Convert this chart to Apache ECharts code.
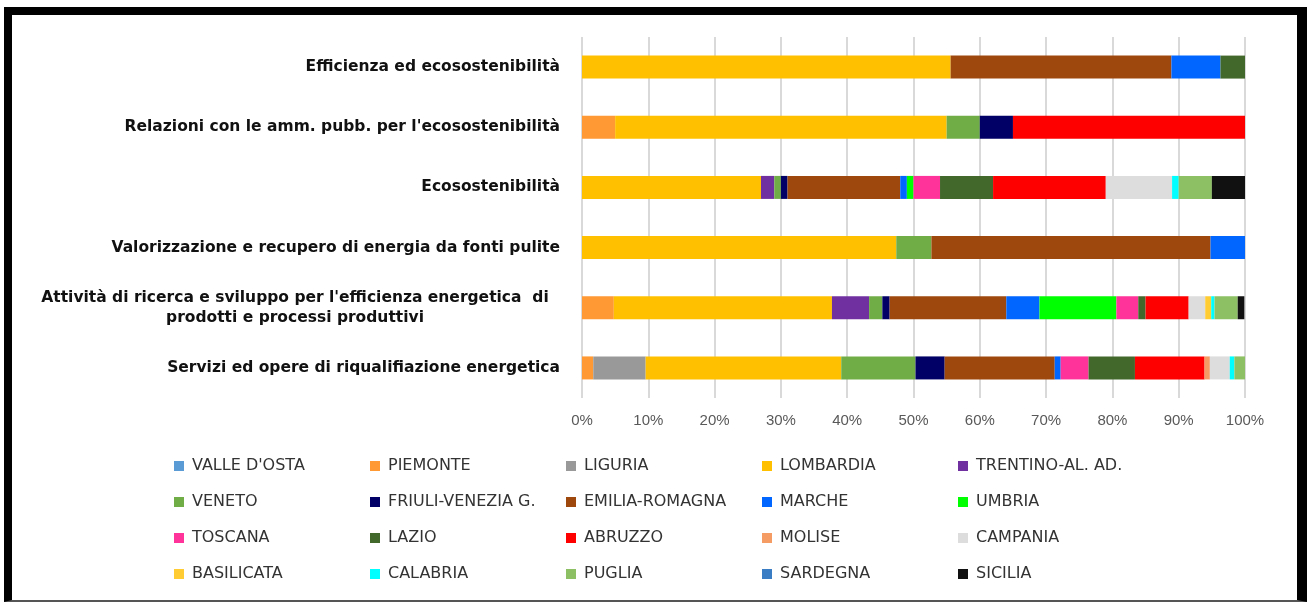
<!DOCTYPE html>
<html>
<head>
<meta charset="utf-8">
<script src="https://cdn.jsdelivr.net/npm/echarts@6/dist/echarts.min.js"></script>
<style>
  html, body { margin: 0; padding: 0; background: #fff; }
  #chart { position: absolute; left: 0; top: 0; width: 1307px; height: 602px; }
  #frame {
    position: absolute; left: 4px; top: 7px; width: 1303px; height: 595px;
    box-sizing: border-box; pointer-events: none;
    border-left: 8px solid #000; border-top: 8px solid #000;
    border-right: 10px solid #000; border-bottom: 2px solid #555;
  }
</style>
</head>
<body>
<div id="chart"></div>
<div id="frame"></div>
<script>
// categorie (dall'alto verso il basso)
var categories = [
  "Efficienza ed ecosostenibilità",
  "Relazioni con le amm. pubb. per l'ecosostenibilità",
  "Ecosostenibilità",
  "Valorizzazione e recupero di energia da fonti pulite",
  "Attività di ricerca e sviluppo per l'efficienza energetica  di\nprodotti e processi produttivi",
  "Servizi ed opere di riqualifiazione energetica"
];

var regions = ["VALLE D'OSTA", "PIEMONTE", "LIGURIA", "LOMBARDIA", "TRENTINO-AL. AD.",
  "VENETO", "FRIULI-VENEZIA G.", "EMILIA-ROMAGNA", "MARCHE", "UMBRIA",
  "TOSCANA", "LAZIO", "ABRUZZO", "MOLISE", "CAMPANIA",
  "BASILICATA", "CALABRIA", "PUGLIA", "SARDEGNA", "SICILIA"];

var regionColors = ["#5B9BD5", "#FF9933", "#999999", "#FFC000", "#7030A0",
  "#70AD47", "#000066", "#9E480E", "#0066FF", "#00FF00",
  "#FF3399", "#43682B", "#FF0000", "#F59B64", "#DDDDDD",
  "#FFCC33", "#00FFFF", "#8DC064", "#3B7DC4", "#111111"];

// quote percentuali per regione, una per categoria
var valleDosta  = [0, 0, 0, 0, 0, 0];
var piemonte    = [0, 5, 0, 0, 4.8, 1.7];
var liguria     = [0, 0, 0, 0, 0, 7.9];
var lombardia   = [55.6, 50, 27, 47.4, 32.9, 29.5];
var trentino    = [0, 0, 2, 0, 5.6, 0];
var veneto      = [0, 5, 1, 5.3, 2.0, 11.2];
var friuli      = [0, 5, 1, 0, 1.1, 4.4];
var emilia      = [33.3, 0, 17, 42.1, 17.6, 16.6];
var marche      = [7.4, 0, 1, 5.3, 5.0, 0.9];
var umbria      = [0, 0, 1, 0, 11.6, 0];
var toscana     = [0, 0, 4, 0, 3.3, 4.2];
var lazio       = [3.7, 0, 8, 0, 1.1, 7.0];
var abruzzo     = [0, 35, 17, 0, 6.5, 10.5];
var molise      = [0, 0, 0, 0, 0, 0.8];
var campania    = [0, 0, 10, 0, 2.5, 3.0];
var basilicata  = [0, 0, 0, 0, 0.9, 0];
var calabria    = [0, 0, 1, 0, 0.5, 0.7];
var puglia      = [0, 0, 5, 0, 3.5, 1.6];
var sardegna    = [0, 0, 0, 0, 0, 0];
var sicilia     = [0, 0, 5, 0, 1.0, 0];

var regionValues = [valleDosta, piemonte, liguria, lombardia, trentino,
  veneto, friuli, emilia, marche, umbria,
  toscana, lazio, abruzzo, molise, campania,
  basilicata, calabria, puglia, sardegna, sicilia];

var xTicks = [0, 10, 20, 30, 40, 50, 60, 70, 80, 90, 100];

var font = "'Liberation Sans', Arial, sans-serif";
var wideFont = "'DejaVu Sans', sans-serif";

var series = regions.map(function(name, i) {
  return {
    name: name,
    type: 'bar',
    stack: 'tot',
    barWidth: 23,
    itemStyle: { color: regionColors[i] },
    emphasis: { disabled: true },
    data: regionValues[i]
  };
});

var myChart = echarts.init(document.getElementById('chart'), null, { renderer: 'canvas' });

myChart.setOption({
  animation: false,
  backgroundColor: '#fff',
  grid: { left: 582, right: 62, top: 37, bottom: 204, containLabel: false },
  xAxis: {
    type: 'value',
    min: xTicks[0],
    max: xTicks[xTicks.length - 1],
    interval: 10,
    axisLine: { show: false },
    axisTick: { show: false },
    splitLine: { show: true, lineStyle: { color: '#D9D9D9', width: 2 } },
    axisLabel: {
      margin: 15,
      color: '#595959',
      fontFamily: font,
      fontSize: 15,
      formatter: '{value}%'
    }
  },
  yAxis: {
    type: 'category',
    inverse: true,
    data: categories,
    axisLine: { show: false },
    axisTick: { show: false },
    axisLabel: {
      margin: 22,
      color: '#111',
      fontFamily: wideFont,
      fontWeight: 'bold',
      fontSize: 15.5,
      formatter: function(v) {
        if (v.indexOf('\n') < 0) return v;
        return v.split('\n').map(function(l) { return '{c|' + l + '}'; }).join('\n');
      },
      rich: {
        c: {
          width: 530,
          align: 'center',
          color: '#111',
          fontFamily: wideFont,
          fontWeight: 'bold',
          fontSize: 15.5,
          lineHeight: 20
        }
      }
    }
  },
  legend: {
    data: regions,
    left: 169,
    top: 453,
    width: 1000,
    orient: 'horizontal',
    itemWidth: 10,
    itemHeight: 10,
    itemGap: 20,
    icon: 'rect',
    selectedMode: false,
    textStyle: {
      color: '#333',
      fontFamily: wideFont,
      fontSize: 16,
      width: 158,
      lineHeight: 16,
      padding: [0, 0, 0, 3]
    }
  },
  series: series
});
</script>
</body>
</html>
